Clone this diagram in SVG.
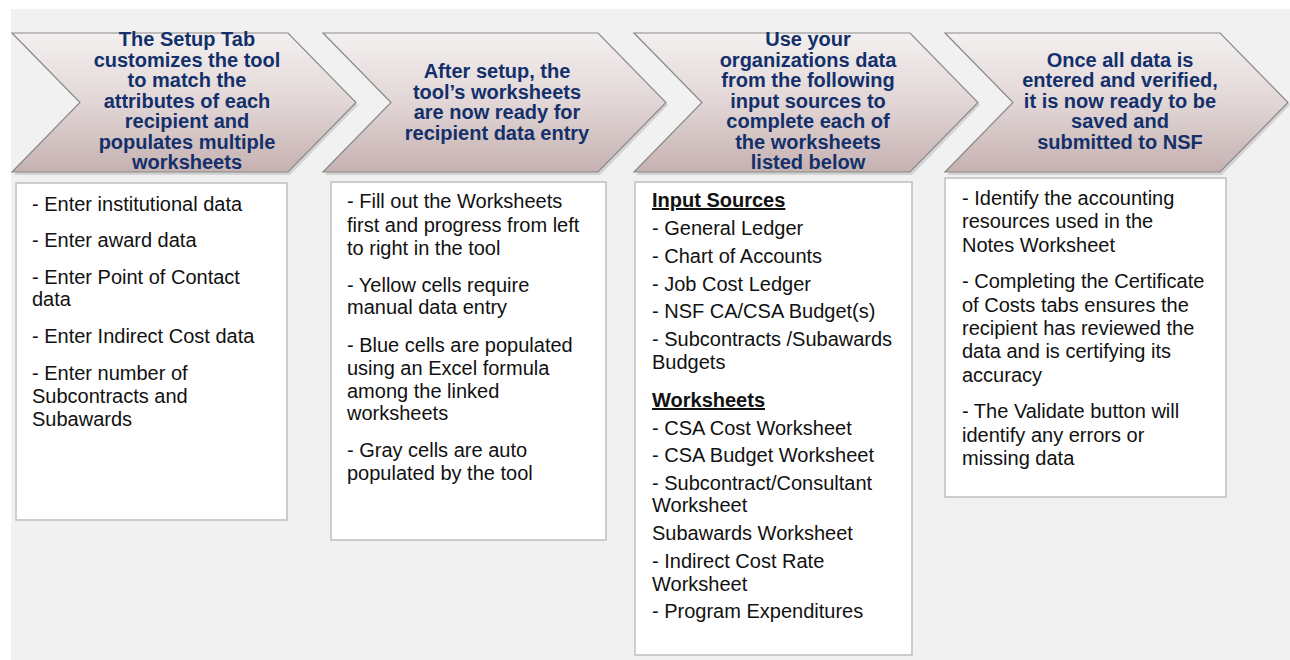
<svg xmlns="http://www.w3.org/2000/svg" width="1290" height="660" viewBox="0 0 1290 660">
<defs>
<linearGradient id="chev" x1="0" y1="0" x2="0" y2="1">
<stop offset="0" stop-color="#f4f0f0"/>
<stop offset="0.5" stop-color="#e2d6d6"/>
<stop offset="1" stop-color="#c6b1b1"/>
</linearGradient>
<style>
.chev{fill:url(#chev);stroke:#8a8a8a;stroke-width:1.2}
.shadow{fill:#9a9a9a;opacity:0.35}
.ct{font-family:"Liberation Sans",Arial,sans-serif;font-weight:bold;font-size:20px;fill:#13306b;text-anchor:middle}
.box{fill:#ffffff;stroke:#c2c2c2;stroke-width:1.6}
.bt{font-family:"Liberation Sans",Arial,sans-serif;font-size:20px;fill:#111111}
.hd{font-weight:bold;text-decoration:underline}
</style>
</defs>
<rect x="0" y="0" width="1290" height="660" fill="#ffffff"/>
<rect x="11" y="9" width="1279" height="651" fill="#f1f1f1"/>

<g id="step1">
<polygon class="shadow" points="14,35 290,35 358,105 290,175 14,175 82,105"/>
<polygon class="chev" points="12,33 288,33 356,102.5 288,172 12,172 80,102.5"/>
<text class="ct"><tspan x="187" y="46">The Setup Tab</tspan><tspan x="187" y="67">customizes the tool</tspan><tspan x="187" y="87">to match the</tspan><tspan x="187" y="108">attributes of each</tspan><tspan x="187" y="128">recipient and</tspan><tspan x="187" y="149">populates multiple</tspan><tspan x="187" y="169">worksheets</tspan></text>
</g>
<g id="step2">
<polygon class="shadow" points="325,35 600,35 668,105 600,175 325,175 393,105"/>
<polygon class="chev" points="323,33 598,33 666,102.5 598,172 323,172 391,102.5"/>
<text class="ct"><tspan x="497" y="78">After setup, the</tspan><tspan x="497" y="99">tool’s worksheets</tspan><tspan x="497" y="119">are now ready for</tspan><tspan x="497" y="140">recipient data entry</tspan></text>
</g>
<g id="step3">
<polygon class="shadow" points="636,35 912,35 980,105 912,175 636,175 704,105"/>
<polygon class="chev" points="634,33 910,33 978,102.5 910,172 634,172 702,102.5"/>
<text class="ct"><tspan x="808" y="46">Use your</tspan><tspan x="808" y="67">organizations data</tspan><tspan x="808" y="87">from the following</tspan><tspan x="808" y="108">input sources to</tspan><tspan x="808" y="128">complete each of</tspan><tspan x="808" y="149">the worksheets</tspan><tspan x="808" y="169">listed below</tspan></text>
</g>
<g id="step4">
<polygon class="shadow" points="947,35 1222,35 1290,105 1222,175 947,175 1015,105"/>
<polygon class="chev" points="945,33 1220,33 1288,102.5 1220,172 945,172 1013,102.5"/>
<text class="ct"><tspan x="1120" y="67">Once all data is</tspan><tspan x="1120" y="87">entered and verified,</tspan><tspan x="1120" y="108">it is now ready to be</tspan><tspan x="1120" y="128">saved and</tspan><tspan x="1120" y="149">submitted to NSF</tspan></text>
</g>

<g id="box1">
<rect class="box" x="16" y="183" width="271" height="337"/>
<text class="bt"><tspan x="32" y="211">- Enter institutional data</tspan><tspan x="32" y="247">- Enter award data</tspan><tspan x="32" y="284">- Enter Point of Contact</tspan><tspan x="32" y="306">data</tspan><tspan x="32" y="343">- Enter Indirect Cost data</tspan><tspan x="32" y="380">- Enter number of</tspan><tspan x="32" y="403">Subcontracts and</tspan><tspan x="32" y="426">Subawards</tspan></text>
</g>
<g id="box2">
<rect class="box" x="331" y="182" width="275" height="358"/>
<text class="bt"><tspan x="347" y="208">- Fill out the Worksheets</tspan><tspan x="347" y="232">first and progress from left</tspan><tspan x="347" y="255">to right in the tool</tspan><tspan x="347" y="292">- Yellow cells require</tspan><tspan x="347" y="314">manual data entry</tspan><tspan x="347" y="352">- Blue cells are populated</tspan><tspan x="347" y="375">using an Excel formula</tspan><tspan x="347" y="398">among the linked</tspan><tspan x="347" y="420">worksheets</tspan><tspan x="347" y="457">- Gray cells are auto</tspan><tspan x="347" y="480">populated by the tool</tspan></text>
</g>
<g id="box3">
<rect class="box" x="635" y="182" width="277" height="473"/>
<text class="bt"><tspan x="652" y="207" class="hd">Input Sources</tspan><tspan x="652" y="235">- General Ledger</tspan><tspan x="652" y="263">- Chart of Accounts</tspan><tspan x="652" y="291">- Job Cost Ledger</tspan><tspan x="652" y="318">- NSF CA/CSA Budget(s)</tspan><tspan x="652" y="346">- Subcontracts /Subawards</tspan><tspan x="652" y="369">Budgets</tspan><tspan x="652" y="407" class="hd">Worksheets</tspan><tspan x="652" y="435">- CSA Cost Worksheet</tspan><tspan x="652" y="462">- CSA Budget Worksheet</tspan><tspan x="652" y="490">- Subcontract/Consultant</tspan><tspan x="652" y="512">Worksheet</tspan><tspan x="652" y="540">Subawards Worksheet</tspan><tspan x="652" y="568">- Indirect Cost Rate</tspan><tspan x="652" y="591">Worksheet</tspan><tspan x="652" y="618">- Program Expenditures</tspan></text>
</g>
<g id="box4">
<rect class="box" x="945" y="178" width="281" height="319"/>
<text class="bt"><tspan x="962" y="205">- Identify the accounting</tspan><tspan x="962" y="228">resources used in the</tspan><tspan x="962" y="252">Notes Worksheet</tspan><tspan x="962" y="288">- Completing the Certificate</tspan><tspan x="962" y="312">of Costs tabs ensures the</tspan><tspan x="962" y="335">recipient has reviewed the</tspan><tspan x="962" y="358">data and is certifying its</tspan><tspan x="962" y="382">accuracy</tspan><tspan x="962" y="418">- The Validate button will</tspan><tspan x="962" y="442">identify any errors or</tspan><tspan x="962" y="465">missing data</tspan></text>
</g>
<g id="connectors"></g>
</svg>
